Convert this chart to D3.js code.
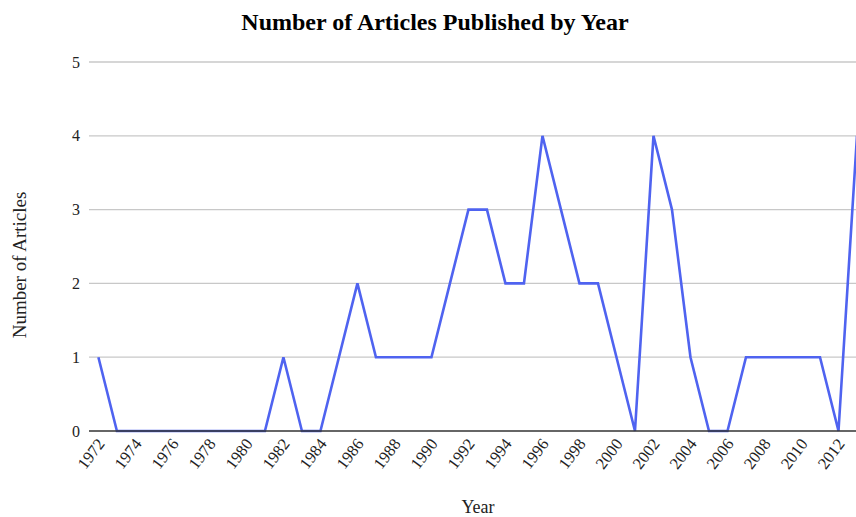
<!DOCTYPE html>
<html>
<head>
<meta charset="utf-8">
<script src="https://cdn.jsdelivr.net/npm/d3@7"></script>
<style>
  html, body { margin: 0; padding: 0; background: #fff; }
  svg { display: block; }
  text { font-family: "Liberation Serif", "Times New Roman", serif; fill: #222; }
</style>
</head>
<body>
<svg id="chart" width="856" height="517"></svg>
<script>
// Articles published per year
const years = [1972, 1973, 1974, 1975, 1976, 1977, 1978, 1979, 1980, 1981,
               1982, 1983, 1984, 1985, 1986, 1987, 1988, 1989, 1990, 1991,
               1992, 1993, 1994, 1995, 1996, 1997, 1998, 1999, 2000, 2001,
               2002, 2003, 2004, 2005, 2006, 2007, 2008, 2009, 2010, 2011,
               2012, 2013];
const articles = [1, 0, 0, 0, 0, 0, 0, 0, 0, 0,
                  1, 0, 0, 1, 2, 1, 1, 1, 1, 2,
                  3, 3, 2, 2, 4, 3, 2, 2, 1, 0,
                  4, 3, 1, 0, 0, 1, 1, 1, 1, 1,
                  0, 4];
const xTickYears = d3.range(1972, 2013, 2);
const yTicks = [0, 1, 2, 3, 4, 5];

const titleText = "Number of Articles Published by Year";
const xTitle = "Year";
const yTitle = "Number of Articles";

const svg = d3.select("#chart");
const W = 856, H = 517;

const x = d3.scaleLinear().domain([1972, 2013]).range([98.4, 857]);
const y = d3.scaleLinear().domain([0, 5]).range([431, 62]);
const gridLeft = 89;

// horizontal gridlines
svg.append("g")
  .selectAll("line")
  .data(yTicks.filter(d => d !== 0))
  .join("line")
  .attr("x1", gridLeft).attr("x2", W)
  .attr("y1", d => y(d)).attr("y2", d => y(d))
  .attr("stroke", "#c8c8c8").attr("stroke-width", 1.3);

// y tick labels
svg.append("g")
  .selectAll("text")
  .data(yTicks)
  .join("text")
  .attr("x", 80).attr("y", d => y(d))
  .attr("dy", "0.35em")
  .attr("text-anchor", "end")
  .style("font-size", "16px")
  .text(d => d);

// data line
const line = d3.line()
  .x((d, i) => x(years[i]))
  .y(d => y(d));

svg.append("path")
  .datum(articles)
  .attr("fill", "none")
  .attr("stroke", "#4f63f0")
  .attr("stroke-width", 2.6)
  .attr("stroke-linejoin", "miter")
  .attr("d", line);

// baseline
svg.append("line")
  .attr("x1", gridLeft).attr("x2", W)
  .attr("y1", y(0)).attr("y2", y(0))
  .attr("stroke", "#333").attr("stroke-width", 1.5);

// x tick labels, rotated
svg.append("g")
  .selectAll("text")
  .data(xTickYears)
  .join("text")
  .attr("transform", d => `translate(${x(d) + 7},${y(0) + 13}) rotate(-53)`)
  .attr("text-anchor", "end")
  .style("font-size", "16.5px")
  .text(d => d);

// titles
svg.append("text")
  .attr("x", 435).attr("y", 30)
  .attr("text-anchor", "middle")
  .style("font-size", "24px")
  .style("font-weight", "bold")
  .style("fill", "#000")
  .text(titleText);

svg.append("text")
  .attr("x", 478).attr("y", 513)
  .attr("text-anchor", "middle")
  .style("font-size", "18px")
  .text(xTitle);

svg.append("text")
  .attr("transform", `translate(26,265) rotate(-90)`)
  .attr("text-anchor", "middle")
  .style("font-size", "19px")
  .text(yTitle);
</script>
</body>
</html>
